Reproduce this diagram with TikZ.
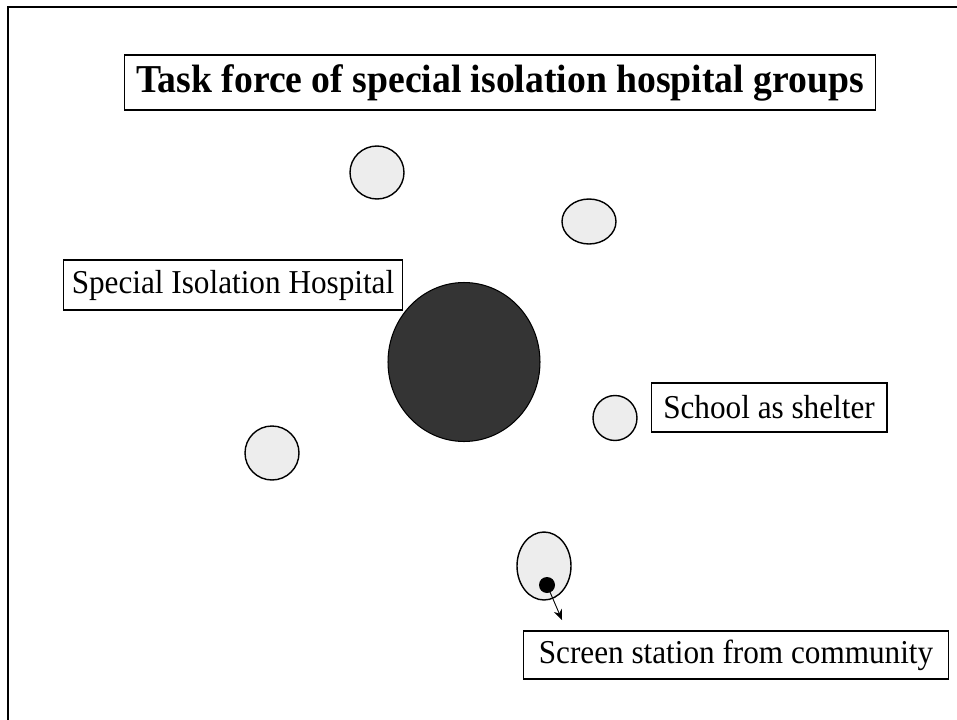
\documentclass[tikz,border=0pt]{standalone}
\usepackage{fontspec}
\setmainfont[FakeStretch=0.935]{Liberation Serif}
\newfontfamily\titlefont[FakeStretch=0.953]{Liberation Serif}
\definecolor{shelter}{RGB}{237, 237, 237}
\definecolor{hospital}{RGB}{52, 52, 52}
\usetikzlibrary{shapes.geometric, arrows.meta}

\begin{document}
\begin{tikzpicture}[
    x=0.02cm, y=-0.02cm,
    label/.style={draw, line width=0.6pt, inner sep=0pt, align=center, font=\fontsize{19}{22}\selectfont},
    site/.style={draw, ellipse, line width=0.8pt, fill=shelter, inner sep=0pt},
    arr/.style={-{Stealth[length=6pt, width=5pt]}, line width=0.5pt}
  ]
    \useasboundingbox (0,0) rectangle (957,720);
    \draw[line width=1.3pt] (8,7) rectangle (965,728);

    \node[label, minimum width=15.04cm, minimum height=1.1cm, font=\titlefont\fontsize{22.5}{26}\selectfont\bfseries] (title) at (500,82.5) {Task force of special isolation hospital groups};

    \node[draw, ellipse, line width=0.6pt, fill=hospital, inner sep=0pt, minimum width=3.04cm, minimum height=3.18cm] (hosp) at (464,362) {};
    \node[label, fill=white, minimum width=6.8cm, minimum height=1cm] (hosplabel) at (233,285) {Special Isolation Hospital};

    \node[site, minimum width=1.08cm, minimum height=1.06cm] (s1) at (377,172.5) {};
    \node[site, minimum width=1.08cm, minimum height=0.9cm] (s2) at (589,221.5) {};
    \node[site, minimum width=1.08cm, minimum height=1.08cm] (s3) at (272,453) {};
    \node[site, minimum width=0.88cm, minimum height=0.9cm] (school) at (615,418) {};
    \node[label, minimum width=4.72cm, minimum height=0.98cm] (schoollabel) at (769,407.5) {School as shelter};

    \node[site, minimum width=1.08cm, minimum height=1.36cm] (screen) at (544,566) {};
    \node[circle, fill=black, inner sep=0pt, minimum size=0.32cm] (dot) at (547,585) {};
    \coordinate (tip) at (562,620);
    \node[label, minimum width=8.52cm, minimum height=0.96cm] (screenlabel) at (736,655) {Screen station from community};

    \draw[arr] (dot.center) -- (tip);
  \end{tikzpicture}
\end{document}
